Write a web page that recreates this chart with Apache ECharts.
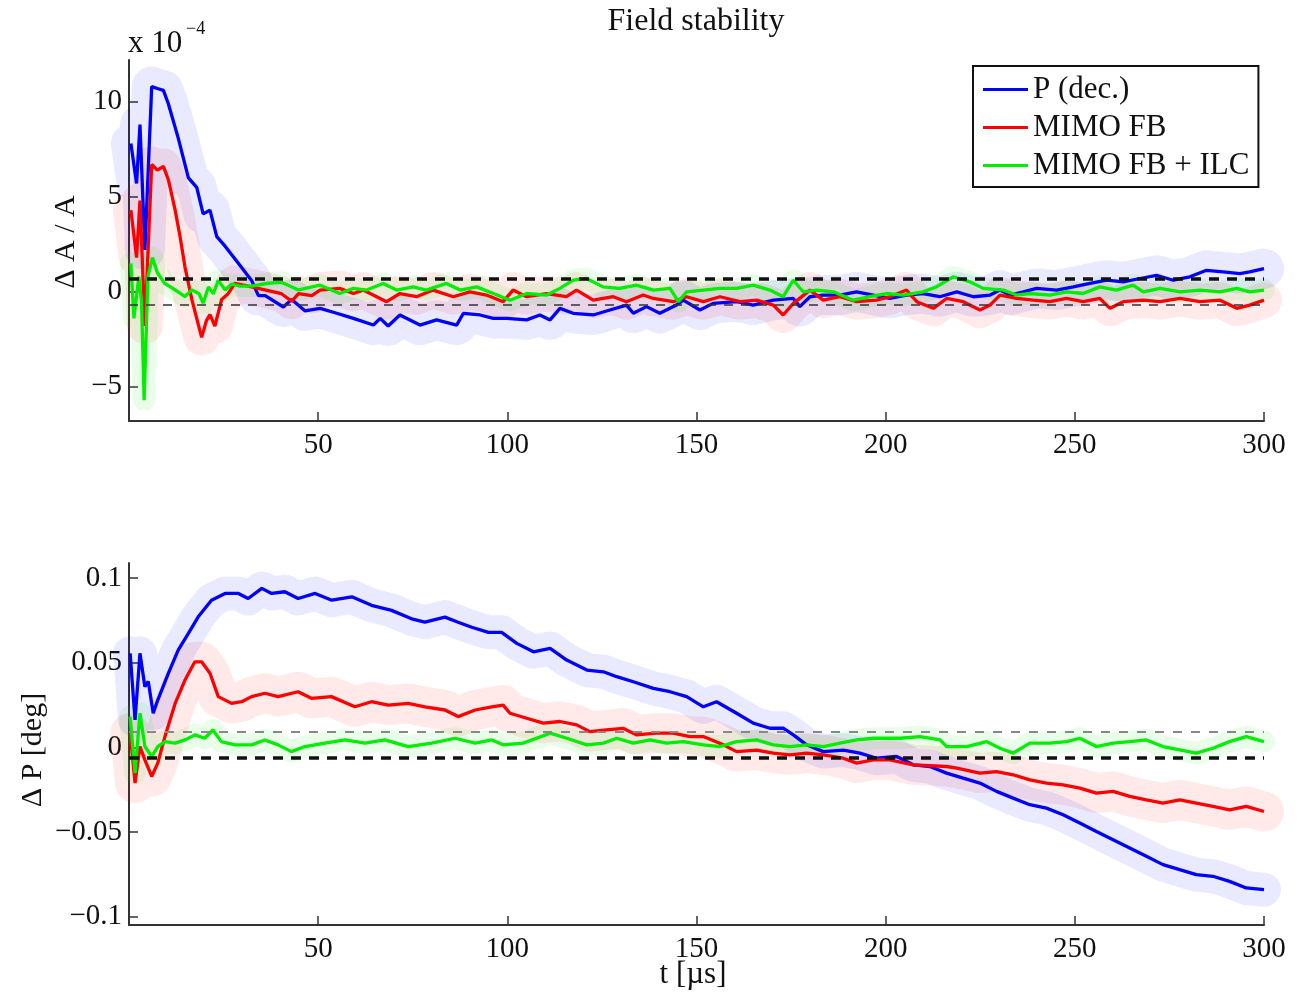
<!DOCTYPE html>
<html>
<head>
<meta charset="utf-8">
<script src="https://cdn.jsdelivr.net/npm/echarts@6/dist/echarts.min.js"></script>
<style>
html,body{margin:0;padding:0;background:#fff;}
#chart{width:1299px;height:1005px;}
</style>
</head>
<body>
<div id="chart"></div>
<script>
// ---------- data (top: ΔA/A in units of 1e-4, bottom: ΔP in deg) ----------
const seriesNames = ['P (dec.)', 'MIMO FB', 'MIMO FB + ILC'];
const xTicks = [50, 100, 150, 200, 250, 300];
const topYTicks = [-5, 0, 5, 10];
const botYTicks = [-0.1, -0.05, 0, 0.05, 0.1];
const topLimits = [0.7, -0.7];
const botLimits = [0.0093, -0.0064];

const topBlue = [[0.5,7.8],[2.0,5.7],[2.9,8.8],[4.2,2.2],[6.0,10.8],[7.5,10.7],[9.1,10.6],[10.4,9.9],[13.0,8.1],[15.7,6.0],[17.9,5.5],[19.6,4.1],[21.4,4.3],[23.2,2.9],[25.4,2.4],[28.9,1.5],[32.4,0.6],[34.2,-0.2],[36,-0.2],[40.8,-0.8],[43,-0.4],[46.5,-1.0],[50.5,-0.87],[54.9,-1.13],[59.3,-1.40],[64.6,-1.75],[66.4,-1.40],[68.5,-1.8],[71.6,-1.22],[76.9,-1.75],[81.3,-1.48],[86.6,-1.75],[88.4,-1.13],[92.8,-1.22],[96.3,-1.40],[99.8,-1.40],[105.1,-1.48],[108.6,-1.22],[111.3,-1.48],[113.9,-0.87],[117.4,-1.13],[122.7,-1.22],[127.1,-0.96],[131.5,-0.70],[133.3,-1.13],[136.8,-0.78],[140.3,-1.13],[144.7,-0.70],[146.5,-0.44],[150.9,-0.96],[154.4,-0.61],[160.6,-0.52],[165.0,-0.70],[170.3,-0.44],[175.6,-0.35],[177.3,-0.78],[180,-0.26],[183.5,-0.17],[187.9,-0.17],[192.3,0],[196.7,-0.17],[201.1,-0.35],[205.5,-0.17],[209.9,-0.09],[214.3,-0.26],[218.8,0],[223.2,-0.26],[227.6,-0.17],[230.2,0.09],[232.9,-0.17],[236.4,0],[239.9,0.18],[245.2,0.09],[249.6,0.26],[254,0.44],[258.4,0.61],[262.8,0.52],[267.2,0.70],[271.6,0.87],[276,0.61],[280.4,0.79],[284.8,1.13],[289.2,1.05],[293.6,0.96],[296.2,1.05],[300,1.22]];

const topRed = [[0.5,4.3],[2.0,1.8],[2.9,4.8],[4.2,-1.8],[6.0,6.7],[7.5,6.4],[9.1,6.6],[10.4,5.9],[12.2,4.3],[13.5,2.9],[14.8,1.3],[16.6,-0.4],[19.2,-2.4],[20.5,-1.5],[21.4,-1.2],[22.7,-1.8],[24.5,-0.4],[26.2,-0.1],[28,0.45],[31.5,0.3],[35.9,0.1],[40.3,-0.1],[43,-0.5],[44.8,-0.1],[48.3,-0.2],[50.5,0.09],[55.7,0.18],[59.3,-0.09],[61.9,0.09],[68.1,-0.52],[71.6,-0.09],[76,-0.26],[80.4,0.09],[85.7,-0.26],[90.1,0],[94.5,-0.17],[98.9,-0.52],[101.5,0.09],[105.1,-0.26],[110.4,-0.09],[115.6,-0.26],[118.3,0.09],[122.7,-0.44],[128,-0.26],[131.5,-0.52],[135.9,-0.17],[138.6,-0.35],[143.9,-0.52],[147.4,-0.26],[151.8,-0.52],[156.2,-0.26],[161.5,-0.52],[165.9,-0.44],[170.3,-0.70],[172.9,-1.22],[175.6,-0.61],[180,0.09],[183.5,-0.44],[187.9,-0.26],[192.3,-0.52],[197.6,-0.44],[201.1,-0.26],[205.5,0.09],[208.2,-0.52],[212.6,-0.87],[216.1,-0.35],[220.5,-0.52],[224.9,-0.96],[227.6,-0.70],[230.2,-0.17],[234.6,-0.35],[239,-0.44],[243.4,-0.52],[247.8,-0.35],[252.2,-0.52],[256.6,-0.35],[259.3,-0.87],[262.8,-0.52],[268.1,-0.44],[272.5,-0.52],[277.8,-0.35],[283.1,-0.52],[288.4,-0.44],[292.8,-0.87],[296.2,-0.70],[300,-0.44]];

const topGreen = [[0.5,1.5],[1.3,-1.4],[2.6,0.8],[3.3,-0.5],[4.0,-5.7],[5.0,0.8],[6.2,1.8],[7.5,1.0],[9.4,0.45],[12.2,0.1],[14.8,-0.25],[16.6,0.1],[18.5,-0.1],[19.6,-0.6],[21,0.25],[22.3,-0.1],[23.6,0.6],[25.4,0.1],[27.1,0.4],[29.4,0.3],[32.4,0.3],[36.8,0.45],[40.3,0.5],[44.8,0.1],[50.5,0.35],[55.7,-0.09],[59.3,0.18],[62.8,0.09],[67.2,0.44],[70.7,0.09],[75.1,0.26],[78.6,0.09],[83.9,0.44],[87.5,0.09],[91.9,0.26],[96.3,-0.09],[100.7,-0.44],[105.1,-0.09],[110.4,-0.17],[113.9,0.18],[117.4,0.61],[120.9,0.70],[125.3,0.26],[129.7,0.18],[134.1,0.35],[138.6,0.09],[143,0.18],[145.2,-0.52],[147.4,0],[151.8,0.09],[156.2,0.18],[160.6,0.18],[165,0.35],[169.4,0.09],[172.9,-0.26],[175.6,0.61],[178.2,0],[181.8,0.09],[186.2,0],[191.4,-0.44],[195.8,-0.26],[200.2,-0.09],[204.6,-0.17],[209.9,0],[213.4,0.26],[217.9,0.79],[222.3,0.52],[225.8,0.18],[231.1,0.09],[234.6,-0.17],[238.1,-0.09],[243.4,-0.17],[247.8,0],[252.2,-0.09],[256.6,0.26],[261,0.09],[265.4,0.35],[268.1,0],[272.5,0.18],[277.8,0],[283.1,0.09],[288.4,0],[292.8,0.18],[296.2,0],[300,0.09]];

const botBlue = [[0.3,0.0556],[1.6,0.0162],[2.9,0.0556],[4.2,0.0359],[5.1,0.039],[6.4,0.0202],[7.6,0.028],[10.4,0.0438],[13,0.0575],[15.7,0.0674],[18.3,0.0772],[21.8,0.087],[25.4,0.091],[28.9,0.091],[31.5,0.088],[35.1,0.094],[37.7,0.091],[41.2,0.092],[44.7,0.088],[49.2,0.091],[53.6,0.087],[58.9,0.089],[64.1,0.084],[69.4,0.081],[74.7,0.076],[78.2,0.074],[83.5,0.077],[87,0.074],[90.6,0.071],[95,0.068],[98.5,0.068],[102.5,0.0615],[106.9,0.0565],[111.3,0.0585],[115.7,0.0516],[121,0.0457],[125.4,0.0447],[128.9,0.0418],[133.3,0.0388],[138.6,0.0349],[143,0.0329],[147.4,0.030],[151.8,0.024],[155.3,0.027],[160.6,0.0202],[165,0.0143],[169.4,0.0113],[173,0.0113],[175.6,0.0074],[179.1,0.0015],[183.5,-0.0025],[188.8,-0.0016],[193.2,-0.0034],[197.6,-0.0064],[202.9,-0.0054],[207.3,-0.0103],[211.7,-0.0113],[216.1,-0.0152],[220.5,-0.0182],[224.9,-0.0211],[229.3,-0.026],[233.7,-0.030],[238.1,-0.0339],[242.5,-0.0359],[246.9,-0.0398],[251.3,-0.0447],[255.7,-0.0497],[260.1,-0.0546],[264.5,-0.0595],[268.9,-0.0644],[273.3,-0.0693],[277.7,-0.0723],[282.1,-0.0752],[286.5,-0.0762],[290.9,-0.0792],[295.3,-0.0831],[300,-0.0841]];

const botRed = [[0.3,0.0084],[1.6,-0.0211],[2.9,0.0005],[4.2,-0.0074],[6,-0.0172],[7.6,-0.0093],[9.5,0.0064],[12.2,0.026],[14.8,0.0398],[17.4,0.0506],[19.2,0.0506],[21.4,0.0438],[23.6,0.030],[27.1,0.026],[29.8,0.027],[32.4,0.030],[35.9,0.032],[39.4,0.030],[44.7,0.0329],[48.2,0.029],[53.5,0.030],[59.7,0.024],[64.1,0.027],[68.5,0.025],[73.8,0.026],[78.2,0.024],[83.5,0.0221],[87,0.0182],[91.5,0.0221],[95.9,0.024],[98.9,0.025],[100.7,0.0202],[105.1,0.0172],[109.5,0.0143],[113.9,0.0153],[118.3,0.0133],[121.8,0.0093],[126.2,0.0103],[130.6,0.0113],[134.1,0.0074],[139.4,0.0084],[143.8,0.0084],[148.3,0.0064],[151.8,0.0064],[157.1,0.0015],[160.6,-0.0025],[165.9,-0.0016],[170.3,-0.0034],[174.7,-0.0044],[179.1,-0.0034],[183.5,-0.0044],[188.8,-0.0064],[192.3,-0.0093],[196.7,-0.0074],[201.1,-0.0074],[207.3,-0.0103],[216.1,-0.0113],[218.8,-0.0123],[224.9,-0.0152],[229.3,-0.0143],[233.7,-0.0162],[238.1,-0.0192],[242.5,-0.0211],[246.9,-0.0221],[251.3,-0.0241],[255.7,-0.027],[260.1,-0.026],[264.5,-0.029],[268.9,-0.031],[273.3,-0.0329],[277.7,-0.031],[282.1,-0.0329],[286.5,-0.0349],[290.9,-0.0369],[295.3,-0.0349],[300,-0.0379]];

const botGreen = [[0.3,0.0182],[1.6,-0.0152],[2.9,0.0202],[4.2,0.0005],[6,-0.0054],[7.6,0.0005],[9.5,0.0034],[12.2,0.0025],[14.8,0.0044],[17.4,0.0074],[20,0.0054],[22.2,0.0103],[24.4,0.0034],[28,0.0015],[32.4,0.0015],[35.9,0.0044],[39.4,0.0015],[42.9,-0.0025],[46.5,0.0005],[51.8,0.0025],[57.1,0.0044],[62.4,0.0025],[67.6,0.0044],[73.8,0.0005],[80,0.0025],[86.2,0.0054],[91.5,0.0025],[95.9,0.0044],[98.9,0.0015],[104.2,0.0025],[111.3,0.0084],[115.7,0.0054],[121,0.0015],[125.4,0.0025],[128.9,0.0054],[133.3,0.0025],[137.7,0.0044],[142.1,0.0025],[146.5,0.0034],[151.8,0.0015],[156.2,0.0005],[160.6,0.0034],[165.9,0.0044],[170.3,0.0015],[174.7,0.0005],[179.1,0.0015],[183.5,0.0005],[187.9,0.0025],[192.3,0.0044],[196.7,0.0054],[203.8,0.0054],[209.1,0.0064],[214.4,0.0044],[216.1,0.0005],[221.4,0.0005],[226.7,0.0034],[230.2,-0.0005],[233.7,-0.0034],[238.1,0.0025],[243.4,0.0025],[247.8,0.0034],[251.3,0.0054],[255.7,0.0005],[260.1,0.0025],[264.5,0.0034],[268.9,0.0044],[273.3,0.0005],[277.7,-0.0015],[282.1,-0.0034],[286.5,-0.0005],[290.9,0.0034],[295.3,0.0064],[300,0.0034]];

// ---------- chart ----------
const FONT = '"Liberation Serif", "Times New Roman", serif';
const INK = '#111';
const colors = ['#0000ff', '#ff0000', '#00ee00'];

function fmtNum(v) {
  return v < 0 ? '\u2212' + String(Math.abs(v)) : String(v);
}

function cloud(data, color, idx, width) {
  return {
    type: 'line', name: 'cloud', data: data, xAxisIndex: idx, yAxisIndex: idx,
    showSymbol: false, silent: true, z: 1, animation: false,
    lineStyle: { color: color, width: width, opacity: 0.085, cap: 'round', join: 'round' }
  };
}
function main(name, data, color, idx) {
  return {
    type: 'line', name: name, data: data, xAxisIndex: idx, yAxisIndex: idx,
    showSymbol: false, z: 4, animation: false, color: color,
    itemStyle: { color: color },
    lineStyle: { color: color, width: 3.3 }
  };
}
function limits(vals, idx, styles) {
  return {
    type: 'line', name: 'limits', data: [], xAxisIndex: idx, yAxisIndex: idx,
    silent: true, z: 3, animation: false,
    markLine: {
      symbol: ['none', 'none'], silent: true, animation: false, precision: 6,
      label: { show: false },
      data: vals.map((v, i) => ({ yAxis: v, lineStyle: styles[i] }))
    }
  };
}
function xAxis(idx) {
  return {
    type: 'value', gridIndex: idx, min: 0, max: 300,
    axisLine: { onZero: false, lineStyle: { color: '#333', width: 2 } },
    axisTick: { inside: true, length: 9, customValues: xTicks, lineStyle: { color: '#333', width: 1.5 } },
    axisLabel: { customValues: xTicks, fontFamily: FONT, fontSize: 29, color: INK, margin: 10 },
    splitLine: { show: false }
  };
}
function yAxis(idx, min, max, ticks) {
  return {
    type: 'value', gridIndex: idx, min: min, max: max,
    axisLine: { show: true, onZero: false, lineStyle: { color: '#333', width: 2 } },
    axisTick: { show: true, inside: true, length: 9, customValues: ticks, lineStyle: { color: '#333', width: 1.5 } },
    axisLabel: { customValues: ticks, fontFamily: FONT, fontSize: 29, color: INK, margin: 7, formatter: fmtNum },
    splitLine: { show: false }
  };
}

const chart = echarts.init(document.getElementById('chart'));
const option = {
  animation: false,
  backgroundColor: '#fff',
  grid: [
    { left: 129, right: 35, top: 60, height: 361 },
    { left: 129, right: 35, top: 563, height: 362 }
  ],
  xAxis: [xAxis(0), xAxis(1)],
  yAxis: [yAxis(0, -6.8, 12.2, topYTicks), yAxis(1, -0.105, 0.109, botYTicks)],
  legend: {
    data: seriesNames, orient: 'vertical', left: 973, top: 66,
    padding: [8, 9, 6, 10], itemGap: 7, itemWidth: 45, itemHeight: 3, icon: 'rect',
    borderColor: '#111', borderWidth: 2, backgroundColor: '#fff',
    textStyle: { fontFamily: FONT, fontSize: 31, color: INK }
  },
  graphic: [
    { type: 'text', x: 696, y: 22, style: { text: 'Field stability', fontFamily: FONT, fontSize: 32, fill: INK, align: 'center', verticalAlign: 'middle' } },
    { type: 'text', x: 128, y: 44, style: { text: 'x 10', fontFamily: FONT, fontSize: 31, fill: INK, align: 'left', verticalAlign: 'middle' } },
    { type: 'text', x: 186, y: 29, style: { text: '\u22124', fontFamily: FONT, fontSize: 18, fill: INK, align: 'left', verticalAlign: 'middle' } },
    { type: 'text', x: 66, y: 242, rotation: Math.PI / 2, style: { text: '\u0394 A / A', fontFamily: FONT, fontSize: 30, fill: INK, align: 'center', verticalAlign: 'middle' } },
    { type: 'text', x: 33, y: 750, rotation: Math.PI / 2, style: { text: '\u0394 P [deg]', fontFamily: FONT, fontSize: 30, fill: INK, align: 'center', verticalAlign: 'middle' } },
    { type: 'text', x: 693, y: 975, style: { text: 't [\u00b5s]', fontFamily: FONT, fontSize: 31, fill: INK, align: 'center', verticalAlign: 'middle' } }
  ],
  series: [
    cloud(topBlue, colors[0], 0, 40),
    cloud(topRed, colors[1], 0, 36),
    cloud(topGreen, colors[2], 0, 22),
    limits(topLimits, 0, [
      { color: '#111', width: 3.5, type: [10, 8] },
      { color: '#333', width: 1.5, type: [9, 8] }
    ]),
    main(seriesNames[0], topBlue, colors[0], 0),
    main(seriesNames[1], topRed, colors[1], 0),
    main(seriesNames[2], topGreen, colors[2], 0),

    cloud(botBlue, colors[0], 1, 34),
    cloud(botRed, colors[1], 1, 40),
    cloud(botGreen, colors[2], 1, 22),
    limits(botLimits, 1, [
      { color: '#888', width: 2, type: [9, 9] },
      { color: '#111', width: 3.5, type: [10, 8] }
    ]),
    main(seriesNames[0], botBlue, colors[0], 1),
    main(seriesNames[1], botRed, colors[1], 1),
    main(seriesNames[2], botGreen, colors[2], 1)
  ]
};
chart.setOption(option);
</script>
</body>
</html>
